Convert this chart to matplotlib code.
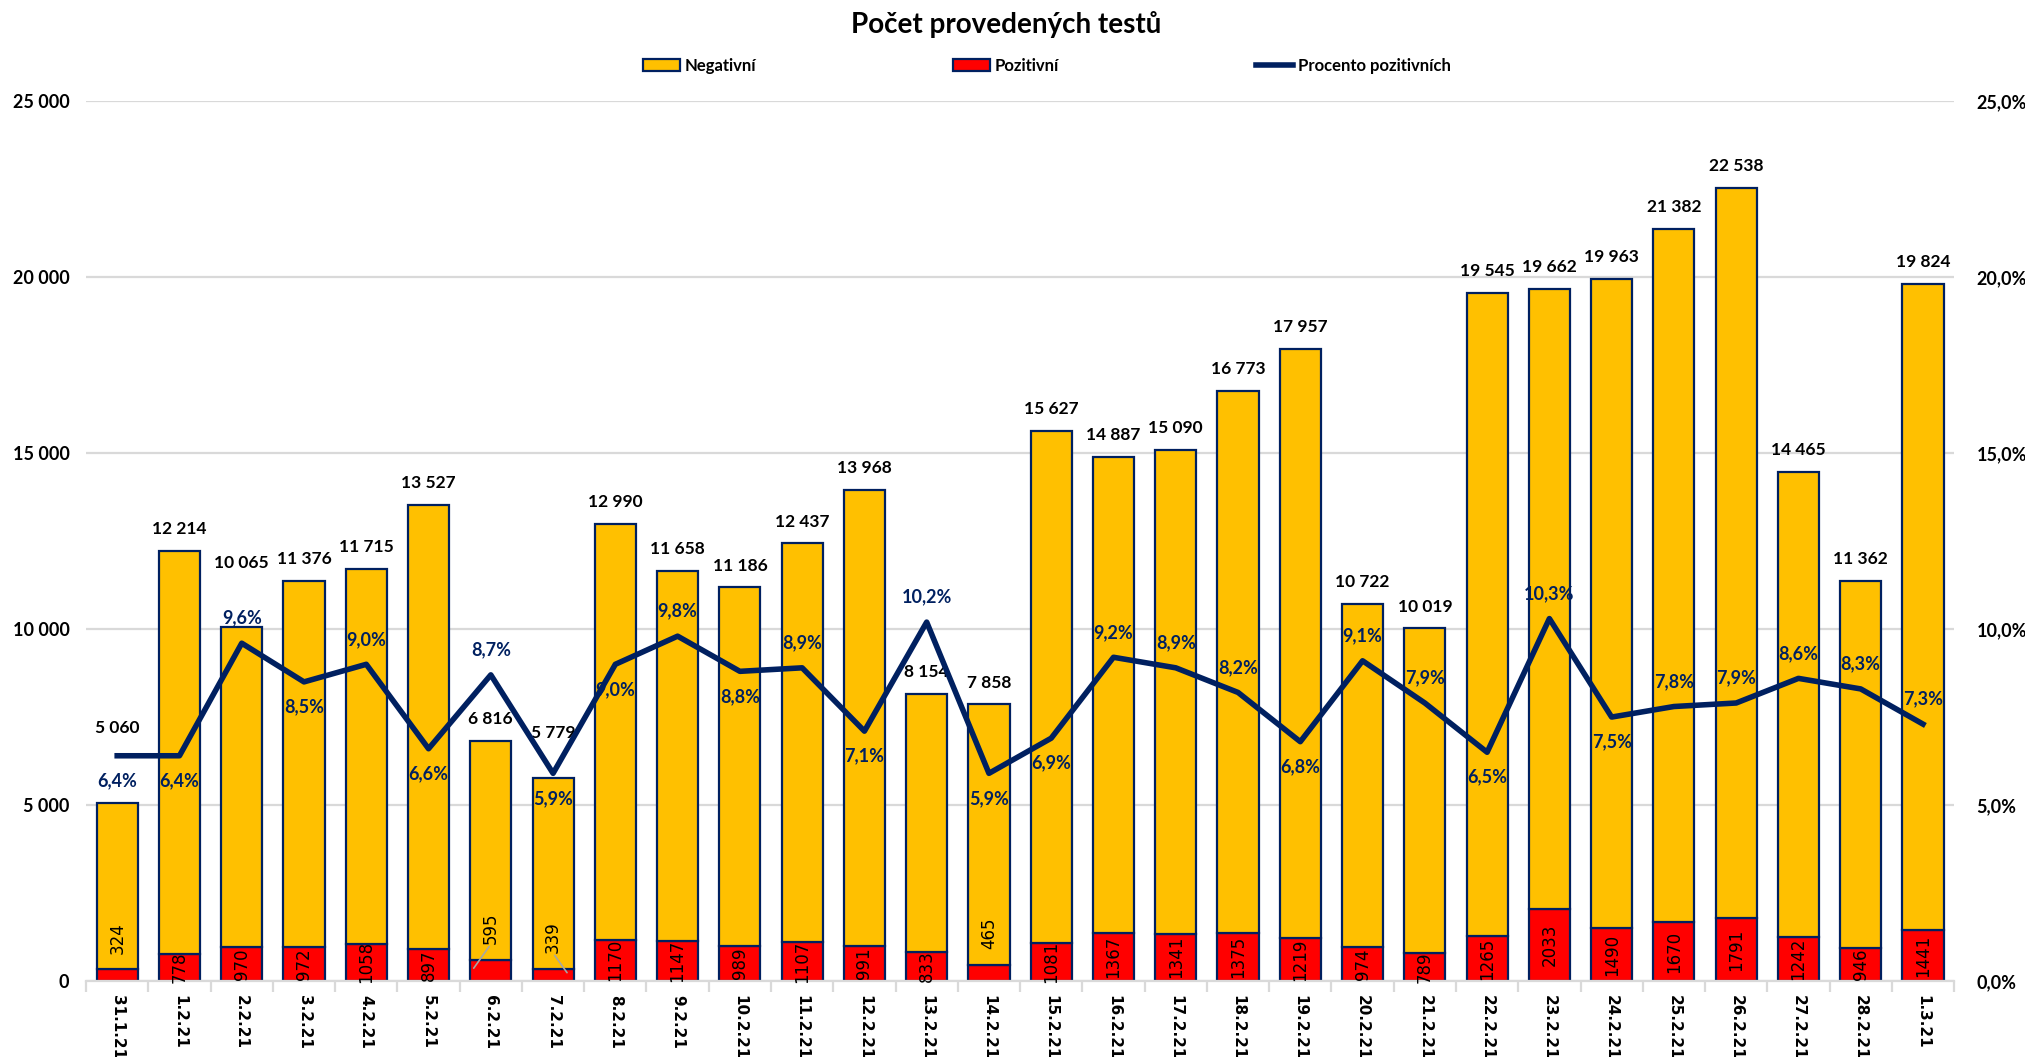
import matplotlib
matplotlib.use("Agg")
import matplotlib.pyplot as plt
from matplotlib.patches import Patch
from matplotlib.lines import Line2D
import numpy as np

# data
datumy = ['31.1.21', '1.2.21', '2.2.21', '3.2.21', '4.2.21', '5.2.21', '6.2.21', '7.2.21',
          '8.2.21', '9.2.21', '10.2.21', '11.2.21', '12.2.21', '13.2.21', '14.2.21', '15.2.21',
          '16.2.21', '17.2.21', '18.2.21', '19.2.21', '20.2.21', '21.2.21', '22.2.21', '23.2.21',
          '24.2.21', '25.2.21', '26.2.21', '27.2.21', '28.2.21', '1.3.21']
celkem = [5060, 12214, 10065, 11376, 11715, 13527, 6816, 5779, 12990, 11658,
          11186, 12437, 13968, 8154, 7858, 15627, 14887, 15090, 16773, 17957,
          10722, 10019, 19545, 19662, 19963, 21382, 22538, 14465, 11362, 19824]
pozitivni = [324, 778, 970, 972, 1058, 897, 595, 339, 1170, 1147,
             989, 1107, 991, 833, 465, 1081, 1367, 1341, 1375, 1219,
             974, 789, 1265, 2033, 1490, 1670, 1791, 1242, 946, 1441]
procento = [6.4, 6.4, 9.6, 8.5, 9.0, 6.6, 8.7, 5.9, 9.0, 9.8,
            8.8, 8.9, 7.1, 10.2, 5.9, 6.9, 9.2, 8.9, 8.2, 6.8,
            9.1, 7.9, 6.5, 10.3, 7.5, 7.8, 7.9, 8.6, 8.3, 7.3]
# poloha popisku procent: 1 = nad, -1 = pod
poloha = [-1, -1, 1, -1, 1, -1, 1, -1, -1, 1,
          -1, 1, -1, 1, -1, -1, 1, 1, 1, -1,
          1, 1, -1, 1, -1, 1, 1, 1, 1, 1]

negativni = [c - p for c, p in zip(celkem, pozitivni)]

ZLUTA = '#FFC000'
CERVENA = '#FF0000'
MODRA = '#002060'
SEDA = '#D9D9D9'

plt.rcParams['font.family'] = ['Lato', 'DejaVu Sans']

fig = plt.figure(figsize=(20.25, 10.57), dpi=100)
ax = fig.add_axes([0.0425, 0.072, 0.9225, 0.832])
ax2 = ax.twinx()

x = np.arange(len(datumy))
sirka = 0.66

ax.bar(x, pozitivni, sirka, color=CERVENA, edgecolor=MODRA, linewidth=1.6, zorder=2)
ax.bar(x, negativni, sirka, bottom=pozitivni, color=ZLUTA, edgecolor=MODRA, linewidth=1.6, zorder=2)

ax.set_ylim(0, 25000)
ax.set_xlim(-0.5, len(datumy) - 0.5)
ax.set_yticks(np.arange(0, 25001, 5000))
ax.set_yticklabels([f"{v:,}".replace(",", " ") for v in range(0, 25001, 5000)],
                   fontsize=13, fontweight='bold')
ax.grid(axis='y', color=SEDA, linewidth=1.6, zorder=0)
ax.set_axisbelow(True)

# popisky celkem (nektere posunute vys, aby se neprekryvaly s carou)
posun_nahoru = {0: 38, 2: 30, 7: 16}
for i, c in enumerate(celkem):
    ax.annotate(f"{c:,}".replace(",", " "), (x[i], c), xytext=(0, 10 + posun_nahoru.get(i, 0)),
                textcoords='offset points', ha='center', va='bottom',
                fontsize=12.5, fontweight='bold', color='black')

# popisky pozitivnich
for i, p in enumerate(pozitivni):
    if p < 600:
        y_txt = p + 900
        ax.text(x[i], y_txt, str(p), rotation=90, ha='center', va='center',
                fontsize=12, color='black', family='DejaVu Sans', zorder=5)
        if i in (6, 7):
            ax.annotate('', xy=(x[i] + (0.25 if i == 7 else -0.3), p / 2), xytext=(x[i], y_txt - 450),
                        arrowprops=dict(arrowstyle='-', color='#A6A6A6', lw=1.2), zorder=5)
    else:
        ax.text(x[i], p / 2, str(p), rotation=90, ha='center', va='center',
                fontsize=12, color='black', family='DejaVu Sans', zorder=5)

ax.set_xticks(x)
ax.set_xticklabels(datumy, rotation=-90, fontsize=11, fontweight='bold', family='DejaVu Sans')
ax.set_xticks(np.arange(-0.5, len(datumy), 1), minor=True)
ax.tick_params(axis='x', which='major', length=0, pad=10)
ax.tick_params(axis='x', which='minor', length=8, color=SEDA, width=1.6)
ax.tick_params(axis='y', length=0, pad=12)
for s in ['top', 'left', 'right']:
    ax.spines[s].set_visible(False)
    ax2.spines[s].set_visible(False)
ax.spines['bottom'].set_color(SEDA)
ax.spines['bottom'].set_linewidth(1.6)
ax2.spines['bottom'].set_visible(False)

# procenta
ax2.plot(x, procento, color=MODRA, linewidth=4, zorder=3)
ax2.set_ylim(0, 25)
ax2.set_yticks(np.arange(0, 25.1, 5))
ax2.set_yticklabels([f"{v:.1f}%".replace(".", ",") for v in np.arange(0, 25.1, 5)],
                    fontsize=13, fontweight='bold')
ax2.tick_params(axis='y', length=0, pad=16)
for i, p in enumerate(procento):
    ax2.annotate(f"{p:.1f}%".replace(".", ","), (x[i], p), xytext=(0, 18 * poloha[i]),
                 textcoords='offset points', ha='center', va='center',
                 fontsize=13, fontweight='bold', color=MODRA)

fig.suptitle('Počet provedených testů', x=0.497, y=0.99, fontsize=20, fontweight='bold')

handles = [Patch(facecolor=ZLUTA, edgecolor=MODRA, linewidth=1.6),
           Patch(facecolor=CERVENA, edgecolor=MODRA, linewidth=1.6),
           Line2D([0], [0], color=MODRA, linewidth=4)]
fig.legend(handles, ['Negativní', 'Pozitivní', 'Procento pozitivních'], loc='center',
           bbox_to_anchor=(0.517, 0.938), ncol=3, frameon=False,
           prop={'weight': 'bold', 'size': 12}, columnspacing=11.8, handlelength=2.2, handletextpad=0.3)

fig.savefig('out.png', dpi=100)
